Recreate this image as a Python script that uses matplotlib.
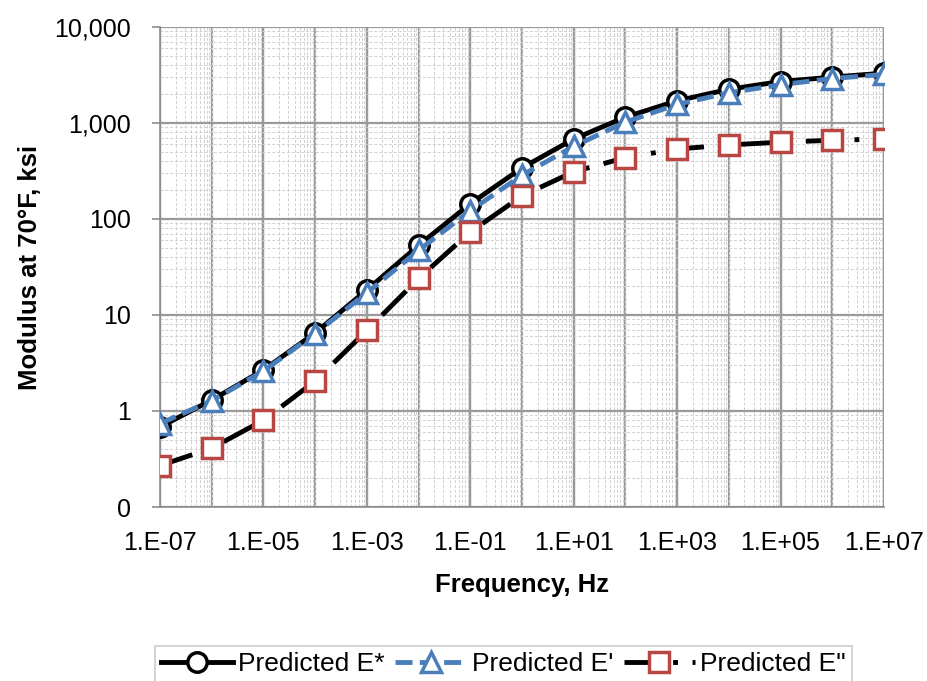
import matplotlib
matplotlib.use('Agg')
import matplotlib.pyplot as plt
from matplotlib.ticker import FixedLocator, LogLocator, NullFormatter

plt.rcParams['font.family'] = ['Liberation Sans', 'DejaVu Sans']

# Data
freq = [1e-7, 1e-6, 1e-5, 1e-4, 1e-3, 1e-2, 1e-1, 1e0, 1e1, 1e2, 1e3, 1e4, 1e5, 1e6, 1e7]
e_star = [0.68, 1.30, 2.67, 6.5, 18.2, 53, 144, 340, 680, 1150, 1700, 2240, 2700, 3000, 3300]
e_prime = [0.74, 1.28, 2.6, 6.4, 17.0, 47, 122, 285, 570, 1020, 1560, 2060, 2500, 2900, 3200]
e_dprime = [0.27, 0.41, 0.80, 2.05, 6.9, 24, 73, 174, 310, 435, 535, 590, 630, 660, 680]

x_ticks = [1e-7, 1e-5, 1e-3, 1e-1, 1e1, 1e3, 1e5, 1e7]
x_labels = ['1.E-07', '1.E-05', '1.E-03', '1.E-01', '1.E+01', '1.E+03', '1.E+05', '1.E+07']
y_ticks = [0.1, 1, 10, 100, 1000, 10000]
y_labels = ['0', '1', '10', '100', '1,000', '10,000']

fig = plt.figure(figsize=(9.27, 6.81), dpi=100)
ax = fig.add_axes([0.1726, 0.2555, 0.781, 0.705])

ax.plot(freq, e_star, color='black', lw=3.5, marker='o', ms=14, mfc='white',
        mec='black', mew=2.5, label='Predicted E*', zorder=3)
ax.plot(freq, e_prime, color='#4A7EBB', lw=3.5, ls=(0, (3.5, 1.5)), marker='^', ms=14,
        mfc='white', mec='#4A7EBB', mew=2.5, label="Predicted E'", zorder=4)
ax.plot(freq, e_dprime, color='black', lw=3.5, ls=(0, (7, 3, 1, 3)), marker='s', ms=14,
        mfc='white', mec='#B84744', mew=2.5, label='Predicted E"', zorder=5)

ax.set_xscale('log')
ax.set_yscale('log')
ax.set_xlim(1e-7, 1e7)
ax.set_ylim(0.1, 10000)

ax.xaxis.set_major_locator(FixedLocator(x_ticks))
ax.set_xticklabels(x_labels)
ax.xaxis.set_minor_locator(LogLocator(base=10, subs=[1, 2, 3, 4, 5, 6, 7, 8, 9], numticks=100))
ax.xaxis.set_minor_formatter(NullFormatter())
ax.yaxis.set_major_locator(FixedLocator(y_ticks))
ax.set_yticklabels(y_labels)
ax.yaxis.set_minor_locator(LogLocator(base=10, subs=[2, 3, 4, 5, 6, 7, 8, 9], numticks=100))
ax.yaxis.set_minor_formatter(NullFormatter())

ax.grid(True, which='minor', color='#D0D0D0', lw=0.7, ls=(0, (3, 2)))
ax.grid(True, which='major', color='#9A9A9A', lw=1.6)
# major x gridlines every decade
for d in range(-7, 8):
    ax.axvline(10.0 ** d, color='#9A9A9A', lw=1.6, zorder=0.5)
ax.set_axisbelow(True)

for s in ['top', 'right']:
    ax.spines[s].set_visible(False)
ax.spines['left'].set_color('#8C8C8C')
ax.spines['bottom'].set_color('#8C8C8C')
ax.spines['left'].set_linewidth(1.2)
ax.spines['bottom'].set_linewidth(1.2)

ax.tick_params(axis='both', which='major', labelsize=18, color='#8C8C8C', length=6, width=1.2)
ax.tick_params(axis='both', which='minor', length=0)
ax.tick_params(axis='y', which='major', pad=15)
ax.tick_params(axis='x', which='major', length=0, pad=17)

ax.set_xlabel('Frequency, Hz', fontsize=18.5, fontweight='bold', labelpad=13)
ax.set_ylabel('Modulus at 70°F, ksi', fontsize=18.5, fontweight='bold', labelpad=9)

leg = fig.legend(loc='upper left', bbox_to_anchor=(0.167, 0.052), ncol=3, fontsize=19,
                 frameon=True, fancybox=False, edgecolor='#BFBFBF', handlelength=2.7,
                 handletextpad=0.2, columnspacing=0.4, borderpad=0.25, borderaxespad=0)
leg.get_frame().set_linewidth(1.2)

fig.savefig('out.png', dpi=100)
